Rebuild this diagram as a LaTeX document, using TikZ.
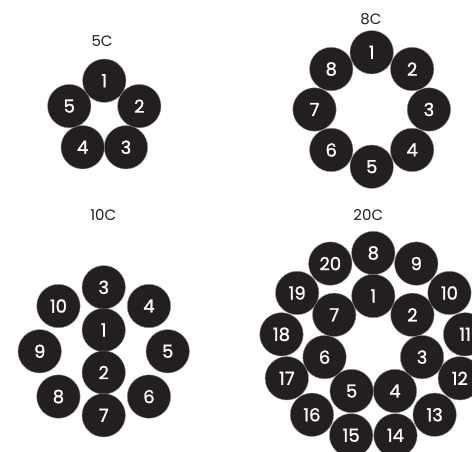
\documentclass[tikz,border=0pt]{standalone}
\usepackage{fontspec}
\setmainfont{Poppins}
\newfontfamily\wirefont[FakeBold=1.2]{Poppins}
\definecolor{cable}{HTML}{231F20}
\begin{document}
\begin{tikzpicture}[x=1pt,y=-1pt,
  wire/.style={circle,fill=cable,draw=black!45,line width=0.4pt,minimum size=43.4pt,inner sep=0pt,text=white,font=\wirefont\fontsize{18}{18}\selectfont},
  title/.style={text=cable,font=\fontsize{15}{15}\selectfont}]
\useasboundingbox (0,0) rectangle (472,452);
\clip (0,0) rectangle (472,452);
\fill[white] (0,0) rectangle (472,452);
% 5C
\node[title] (t5) at (102,41) {5C};
\foreach \k in {1,...,5}{
  \pgfmathsetmacro\ang{90-(\k-1)*72}
  \node[wire] (a\k) at ({104.3+36.8*cos(\ang)},{117.5-36.8*sin(\ang)}) {\k};
}
% 8C
\node[title] (t8) at (371,19) {8C};
\foreach \k in {1,...,8}{
  \pgfmathsetmacro\ang{90-(\k-1)*45}
  \node[wire] (b\k) at ({371.7+57.2*cos(\ang)},{109.5-57.2*sin(\ang)}) {\k};
}
% 10C
\node[title] (t10) at (103.3,215) {10C};
\node[wire] (c1) at (103.7,330) {1};
\node[wire] (c2) at (103.7,372.5) {2};
\foreach \k in {3,...,10}{
  \pgfmathsetmacro\ang{90-(\k-3)*45}
  \node[wire] (c\k) at ({103.7+64*cos(\ang)},{351.3-64*sin(\ang)}) {\k};
}
% 20C
\node[title] (t20) at (368.3,215) {20C};
\foreach \k in {1,...,7}{
  \pgfmathsetmacro\ang{90-(\k-1)*360/7}
  \node[wire] (d\k) at ({373.3+50*cos(\ang)},{346-50*sin(\ang)}) {\k};
}
\foreach \k in {8,...,20}{
  \pgfmathsetmacro\ang{90-(\k-8)*360/13}
  \node[wire] (d\k) at ({373.3+92.5*cos(\ang)},{345.5-92.5*sin(\ang)}) {\k};
}
\end{tikzpicture}
\end{document}
